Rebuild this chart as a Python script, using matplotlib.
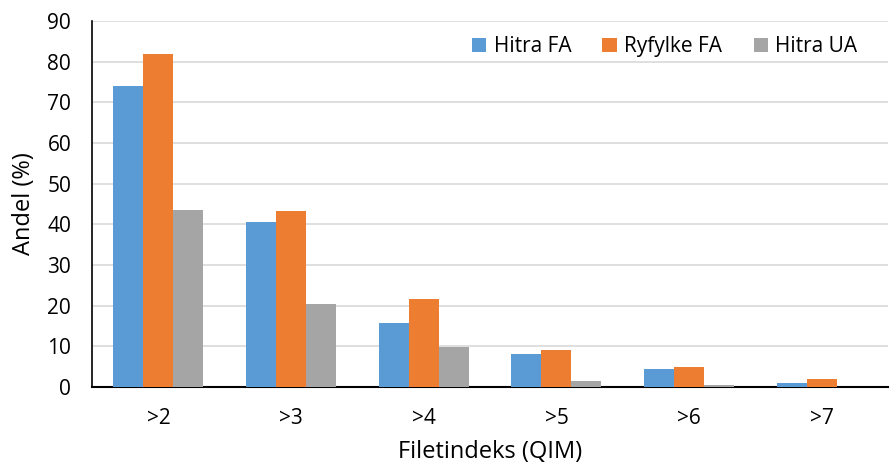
import matplotlib
matplotlib.use("Agg")
import matplotlib.pyplot as plt
import numpy as np

categories = [">2", ">3", ">4", ">5", ">6", ">7"]
series_names = ["Hitra FA", "Ryfylke FA", "Hitra UA"]
hitra_fa = [74.0, 40.7, 15.7, 8.1, 4.4, 0.9]
ryfylke_fa = [82.0, 43.4, 21.7, 9.2, 4.9, 2.0]
hitra_ua = [43.5, 20.5, 9.8, 1.4, 0.6, 0.0]
yticks = [0, 10, 20, 30, 40, 50, 60, 70, 80, 90]

colors = ["#5B9BD5", "#ED7D31", "#A5A5A5"]

plt.rcParams['font.family'] = ['Open Sans', 'DejaVu Sans']

fig = plt.figure(figsize=(8.9, 4.7), dpi=100)
ax = fig.add_axes([0.1034, 0.1766, 0.8946, 0.7784])

x = np.arange(len(categories))
w = 0.226
for i, (vals, name) in enumerate(zip([hitra_fa, ryfylke_fa, hitra_ua], series_names)):
    ax.bar(x + (i - 1) * w, vals, width=w, color=colors[i], label=name, zorder=3)

ax.set_xlim(-0.5, len(categories) - 0.5)
ax.set_ylim(0, 90)
ax.set_yticks(yticks)
ax.set_xticks(x)
ax.set_xticklabels(categories)
ax.tick_params(axis='both', length=0, labelsize=15, colors='black')
ax.tick_params(axis='x', pad=15)
ax.tick_params(axis='y', pad=15)
ax.yaxis.grid(True, color='#D9D9D9', linewidth=1.2, zorder=0)
ax.set_axisbelow(True)
for s in ['top', 'right']:
    ax.spines[s].set_visible(False)
ax.spines['left'].set_color('black')
ax.spines['bottom'].set_color('black')
ax.spines['left'].set_linewidth(1.2)
ax.spines['bottom'].set_linewidth(1.5)

ax.set_ylabel("Andel (%)", fontsize=17, labelpad=8)
ax.set_xlabel("Filetindeks (QIM)", fontsize=17, labelpad=8)

leg = ax.legend(loc='upper right', bbox_to_anchor=(0.985, 1.01), ncol=3, frameon=False,
                fontsize=15, handlelength=0.7, handleheight=0.7, handletextpad=0.35,
                columnspacing=1.5)

fig.savefig("out.png", dpi=100)
